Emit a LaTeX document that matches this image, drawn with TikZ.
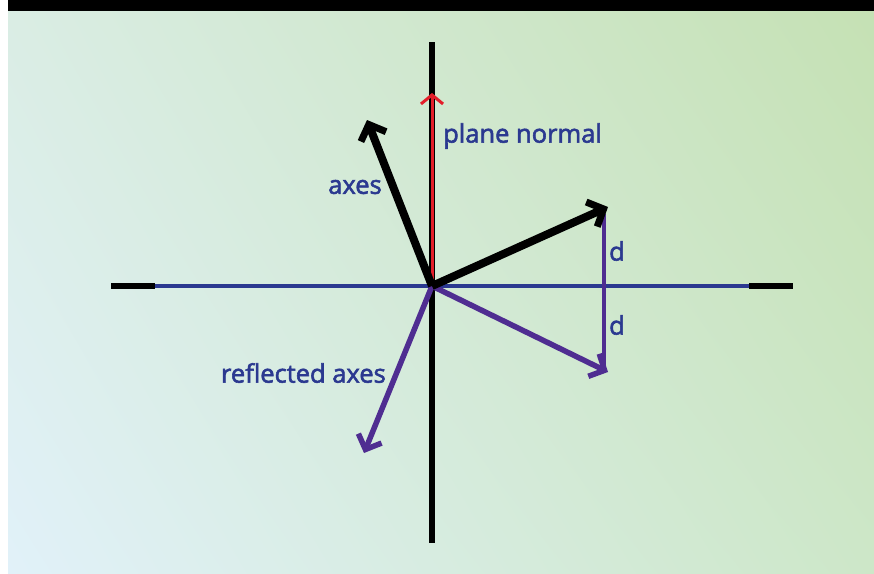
\documentclass[tikz,border=0pt]{standalone}
\usepackage{fontspec}
\setmainfont{Open Sans}[FakeBold=2.2]
\usetikzlibrary{arrows.meta,positioning,shadings}
\definecolor{planeblue}{HTML}{2B3990}
\definecolor{reflpurple}{HTML}{4F2D91}
\definecolor{normalred}{HTML}{E31E2A}
\definecolor{bgtl}{RGB}{218,237,228}
\definecolor{bgtr}{RGB}{197,225,180}
\definecolor{bgbl}{RGB}{225,241,249}
\definecolor{bgbr}{RGB}{205,231,200}

\begin{document}
\begin{tikzpicture}[x=1pt, y=-1pt, every node/.style={font=\fontsize{25.5}{28}\selectfont, text=planeblue, inner sep=0pt}]
\useasboundingbox (0,0) rectangle (874,573);
\shade[upper left=bgtl, upper right=bgtr, lower left=bgbl, lower right=bgbr] (8,11) rectangle (874,573);
\fill[black] (8,0) rectangle (874,11);
% plane and its normal
\coordinate (o) at (432,286);
\coordinate (top) at (432,42);
\coordinate (bot) at (432,543);
\coordinate (lfar) at (111,286);
\coordinate (lend) at (155,286);
\coordinate (rend) at (749,286);
\coordinate (rfar) at (793,286);
\draw[line width=6.5pt, black] (top) -- (bot);
\draw[line width=6.5pt, black] (lfar) -- (lend);
\draw[line width=6.5pt, black] (rend) -- (rfar);
\draw[line width=3.5pt, planeblue] (lend) -- (rend);
\coordinate (n) at (432,93);
\draw[line width=3pt, normalred, -{Straight Barb[length=9pt, width=22pt, line width=3pt]}] (o) -- (n);
% axes and reflected axes
\coordinate (a1) at (367,120);
\coordinate (a2) at (608,207);
\coordinate (r1) at (364,453);
\coordinate (r2) at (608,372);
\coordinate (dtop) at (604,214);
\coordinate (dbot) at (604,366);
\draw[line width=3.5pt, reflpurple] (dtop) -- (dbot);
\draw[line width=5.5pt, reflpurple, -{Straight Barb[length=12pt, width=25pt, line width=5.5pt]}] (o) -- (r1);
\draw[line width=5.5pt, reflpurple, -{Straight Barb[length=12pt, width=25pt, line width=5.5pt]}] (o) -- (r2);
\draw[line width=8pt, black, -{Straight Barb[length=13pt, width=27pt, line width=7pt]}] (o) -- (a1);
\draw[line width=8pt, black, -{Straight Barb[length=13pt, width=27pt, line width=7pt]}] (o) -- (a2);
% labels
\node[anchor=west] (normal) at (443,136) {plane normal};
\node (axes) at (355,187) {axes};
\node (d1) at (617,251) {d};
\node (d2) at (617,325) {d};
\node[anchor=east] (refl) at (386,373) {reflected axes};
\end{tikzpicture}
\end{document}
